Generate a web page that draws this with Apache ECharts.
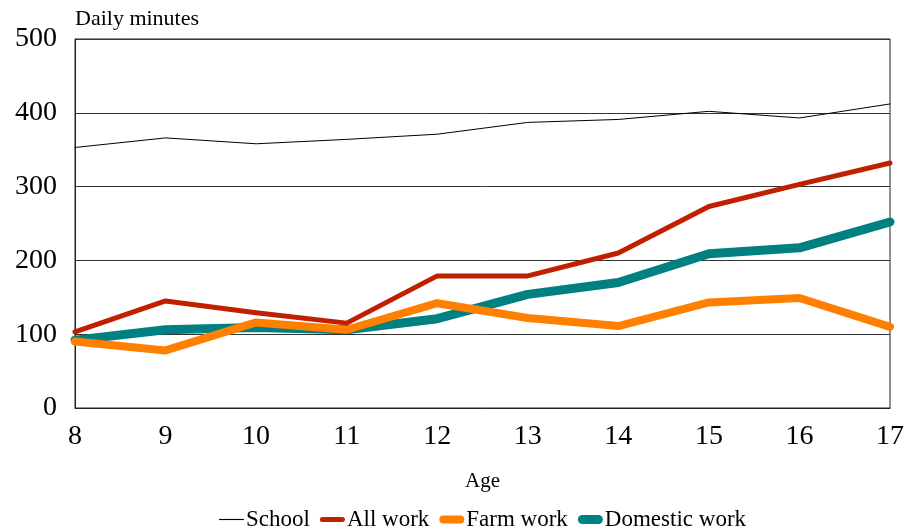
<!DOCTYPE html>
<html><head><meta charset="utf-8">
<script src="https://cdn.jsdelivr.net/npm/echarts@6/dist/echarts.min.js"></script>
<style>html,body{margin:0;padding:0;background:#fff}#c{width:907px;height:532px}</style>
</head><body><div id="c"></div>
<script>
const ages = ['8','9','10','11','12','13','14','15','16','17'];
const school = [353, 366, 358, 364, 371, 387, 391, 402, 393, 412];
const allWork = [103, 145, 129, 115, 179, 179, 210, 273, 303, 332];
const farmWork = [90, 78, 116, 106, 142, 122, 111, 143, 149, 110];
const domesticWork = [92, 106, 109, 106, 121, 154, 170, 209, 217, 252];
const yTicks = [0, 100, 200, 300, 400, 500];
const seriesNames = ['School','All work','Farm work','Domestic work'];

const font = 'Liberation Serif';
const chart = echarts.init(document.getElementById('c'));
function line(name, data, color, width, z) {
  return {name, type:'line', data, symbol:'none', z,
    lineStyle:{color, width, cap:'round', join:'round'}, itemStyle:{color}};
}
function bar(w, h) {
  const r = h / 2;
  if (h <= 1.5) return 'path://M0,0H' + w + 'V' + h + 'H0Z';
  return 'path://M' + r + ',0H' + (w - r) + 'A' + r + ',' + r + ' 0 0 1 ' + (w - r) + ',' + h +
    'H' + r + 'A' + r + ',' + r + ' 0 0 1 ' + r + ',0Z';
}
chart.setOption({
  animation:false,
  textStyle:{fontFamily:font, color:'#000'},
  grid:{left:75, right:17, top:39, bottom:124, show:true, borderColor:'#222', borderWidth:1},
  legend:{bottom:-4, left:214, itemGap:10, itemWidth:25, itemHeight:12,
    textStyle:{fontFamily:font, fontSize:23, color:'#000', padding:[0,0,0,-3]},
    data:[
      {name:seriesNames[0], icon:bar(22,1)},
      {name:seriesNames[1], icon:bar(25,5)},
      {name:seriesNames[2], icon:bar(25,8)},
      {name:seriesNames[3], icon:bar(25,9)}
    ]},
  xAxis:{type:'category', data:ages, boundaryGap:false,
    name:'Age', nameLocation:'middle', nameGap:63,
    nameTextStyle:{fontFamily:font, fontSize:21, color:'#000'},
    axisLine:{lineStyle:{color:'#222'}}, axisTick:{show:false},
    axisLabel:{fontFamily:font, fontSize:28, color:'#000', margin:15}},
  yAxis:{type:'value', min:yTicks[0], max:yTicks[yTicks.length-1], interval:100,
    name:'Daily minutes', nameLocation:'end', nameGap:9,
    nameTextStyle:{fontFamily:font, fontSize:22, color:'#000', align:'left'},
    axisLine:{show:true, lineStyle:{color:'#222'}}, axisTick:{show:false},
    splitLine:{lineStyle:{color:'#333', width:1}},
    axisLabel:{fontFamily:font, fontSize:28, color:'#000', margin:18}},
  series:[
    line(seriesNames[0], school, '#000000', 1, 5),
    line(seriesNames[1], allWork, '#c02000', 5, 4),
    line(seriesNames[2], farmWork, '#ff8000', 8, 3),
    line(seriesNames[3], domesticWork, '#008080', 9, 2)
  ]
});
</script></body></html>
